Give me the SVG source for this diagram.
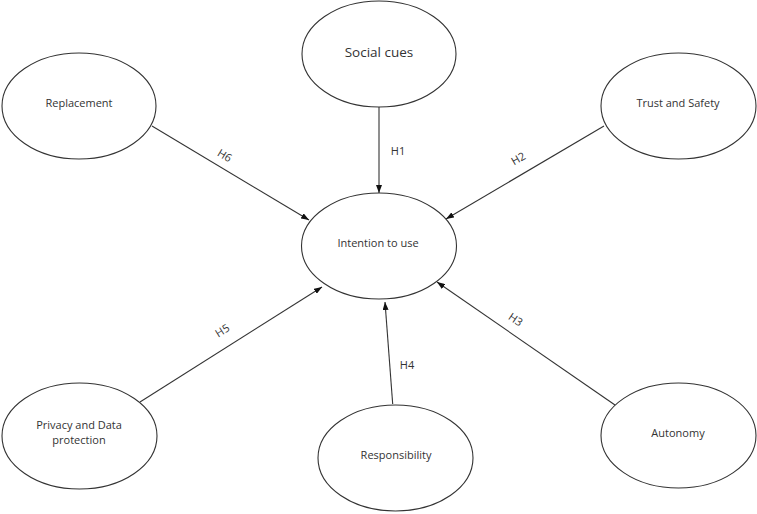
<svg xmlns="http://www.w3.org/2000/svg" width="757" height="514" viewBox="0 0 757 514">
<style>
ellipse{fill:#fff;stroke:#333;stroke-width:1.1}
text{font-family:"Open Sans","Liberation Sans",sans-serif;font-size:11px;fill:#333;text-anchor:middle;dominant-baseline:central}
.c line{stroke:#333;stroke-width:1.1;marker-end:url(#ah)}
</style>
<defs>
<marker id="ah" viewBox="0 0 8 6" refX="8" refY="3" markerWidth="8" markerHeight="6" markerUnits="userSpaceOnUse" orient="auto"><path d="M0,0L8,3L0,6z" fill="#111"/></marker>
</defs>
<rect width="757" height="514" fill="#fff"/>
<g id="social"><ellipse cx="379" cy="54" rx="77" ry="53"/><text x="379" y="52" style="font-size:13.5px">Social cues</text></g>
<g id="replacement"><ellipse cx="79" cy="106" rx="77" ry="53"/><text x="79" y="102">Replacement</text></g>
<g id="trust"><ellipse cx="678.5" cy="106" rx="77.5" ry="53"/><text x="678" y="102">Trust and Safety</text></g>
<g id="intention"><ellipse cx="379" cy="246" rx="77.5" ry="53"/><text x="378" y="242">Intention to use</text></g>
<g id="privacy"><ellipse cx="79.5" cy="436" rx="77.5" ry="53"/><text x="79" y="424">Privacy and Data</text><text x="79" y="439">protection</text></g>
<g id="responsibility"><ellipse cx="395.5" cy="458" rx="77.5" ry="53"/><text x="396" y="454">Responsibility</text></g>
<g id="autonomy"><ellipse cx="678.5" cy="435.5" rx="77.5" ry="52.5"/><text x="678" y="432">Autonomy</text></g>
<g class="c" id="connectors">
<line x1="379" y1="107" x2="379" y2="193"/>
<line x1="152" y1="126" x2="309" y2="220"/>
<line x1="604" y1="126" x2="446" y2="219"/>
<line x1="140" y1="402" x2="322" y2="287"/>
<line x1="392.7" y1="404" x2="385" y2="302"/>
<line x1="615" y1="405" x2="437" y2="282"/>
<text x="398" y="150">H1</text>
<text x="225" y="155" transform="rotate(31 225 155)">H6</text>
<text x="518" y="158" transform="rotate(-30 518 158)">H2</text>
<text x="222" y="330" transform="rotate(-32 222 330)">H5</text>
<text x="407" y="364">H4</text>
<text x="516" y="319" transform="rotate(34 516 319)">H3</text>
</g>
</svg>
